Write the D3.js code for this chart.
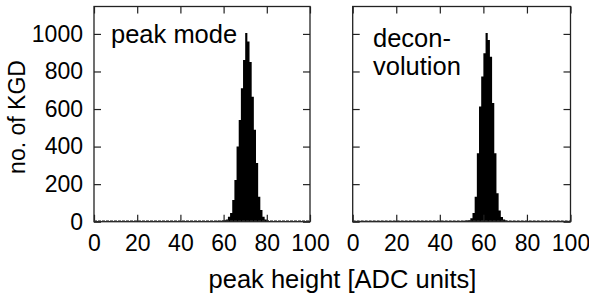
<!DOCTYPE html>
<html>
<head>
<meta charset="utf-8">
<script src="https://cdn.jsdelivr.net/npm/d3@7"></script>
<style>
  html, body { margin: 0; padding: 0; background: #fff; }
  svg { display: block; font-family: "Liberation Sans", Arial, sans-serif; }
</style>
</head>
<body>
<svg id="chart" width="589" height="298"></svg>
<script>
// Data: histogram counts per 1-ADC-unit bin (bins 0..99)
const peakModeCounts = [
  3,2,4,1,3,2,3,4,2,3, 1,3,2,4,3,2,1,3,4,2,
  3,2,3,1,4,2,3,2,3,4, 2,1,3,2,4,3,2,3,1,3,
  2,4,3,2,3,1,2,4,3,2, 3,2,4,3,2,3,4,5,4,6,
  8,12,27,46,115,222,400,542,711,861,
  1005,960,850,666,489,312,133,62,27,12,
  6,4,3,2,3,1,3,2,2,3, 1,2,3,2,1,3,2,2,1,2
];
const deconvCounts = [
  2,3,1,3,2,4,2,3,1,2, 3,2,4,2,3,1,3,2,3,4,
  2,3,1,2,3,2,4,3,2,1, 3,2,3,4,2,3,1,2,3,2,
  4,3,2,3,1,3,2,4,3,2, 4,5,6,8,18,46,133,365,613,773,
  897,1005,968,879,632,365,152,60,25,12,
  6,4,3,2,3,1,2,3,2,1, 3,2,2,3,1,2,3,2,1,2,
  3,2,1,2,3,2,1,2,2,1
];
const xTicks = [0, 20, 40, 60, 80, 100];
const yTicks = [0, 200, 400, 600, 800, 1000];

const TICK_FONT = 23;
const LABEL_FONT = 25.5;
const svg = d3.select("#chart");

const y = d3.scaleLinear().domain([0, 1146]).range([221.7, 6.5]);

const panels = [
  { counts: peakModeCounts, x0: 94, x1: 310, label: ["peak mode"], lx: 111, ly: 43, yLabels: true },
  { counts: deconvCounts, x0: 352.7, x1: 570.5, label: ["decon-", "volution"], lx: 373, ly: 47, yLabels: false }
];

panels.forEach(p => {
  const x = d3.scaleLinear().domain([0, 100]).range([p.x0, p.x1]);
  const g = svg.append("g");

  // histogram as one filled step area (avoids seams between bars)
  const pts = p.counts.map((c, i) => [i, c]).concat([[p.counts.length, p.counts[p.counts.length - 1]]]);
  g.append("path")
    .attr("d", d3.area()
      .x(d => x(d[0]))
      .y0(y(0))
      .y1(d => y(d[1]))
      .curve(d3.curveStepAfter)(pts))
    .attr("fill", "#000");

  // axes, ticks pointing inward
  const styleAxis = sel => {
    sel.select(".domain").remove();
    sel.selectAll(".tick line").attr("stroke", "#222").attr("stroke-width", 1.2);
    sel.selectAll("text").attr("font-size", TICK_FONT + "px").attr("fill", "#000")
      .attr("font-family", "'Liberation Sans', Arial, sans-serif");
  };

  g.append("g").attr("transform", `translate(0,${y(0)})`)
    .call(d3.axisBottom(x).tickValues(xTicks).tickSizeInner(-7).tickSizeOuter(0).tickPadding(13))
    .call(styleAxis);
  g.append("g").attr("transform", `translate(0,${y.range()[1]})`)
    .call(d3.axisTop(x).tickValues(xTicks).tickSizeInner(-7).tickSizeOuter(0).tickFormat(""))
    .call(styleAxis);
  g.append("g").attr("transform", `translate(${p.x0},0)`)
    .call(d3.axisLeft(y).tickValues(yTicks).tickSizeInner(-7).tickSizeOuter(0).tickPadding(11)
      .tickFormat(p.yLabels ? d3.format("d") : ""))
    .call(styleAxis);
  g.append("g").attr("transform", `translate(${p.x1},0)`)
    .call(d3.axisRight(y).tickValues(yTicks).tickSizeInner(-7).tickSizeOuter(0).tickFormat(""))
    .call(styleAxis);

  // frame
  g.append("rect")
    .attr("x", p.x0).attr("y", y.range()[1])
    .attr("width", p.x1 - p.x0).attr("height", y(0) - y.range()[1])
    .attr("fill", "none").attr("stroke", "#222").attr("stroke-width", 1.3);
  // thick baseline as in the original
  g.append("line")
    .attr("x1", p.x0).attr("x2", p.x1)
    .attr("y1", y(0) - 0.8).attr("y2", y(0) - 0.8)
    .attr("stroke", "#333").attr("stroke-width", 1).attr("stroke-dasharray", "3 1");

  // panel label
  const t = g.append("text").attr("x", p.lx).attr("y", p.ly)
    .attr("font-size", LABEL_FONT + "px").attr("fill", "#000");
  p.label.forEach((s, i) => {
    t.append("tspan").attr("x", p.lx).attr("dy", i === 0 ? 0 : 28).text(s);
  });
});

// axis titles
svg.append("text")
  .attr("x", 342.5).attr("y", 288)
  .attr("text-anchor", "middle")
  .attr("font-size", LABEL_FONT + "px")
  .text("peak height [ADC units]");

svg.append("text")
  .attr("transform", "translate(25,117) rotate(-90)")
  .attr("text-anchor", "middle")
  .attr("font-size", TICK_FONT + "px")
  .text("no. of KGD");
</script>
</body>
</html>
